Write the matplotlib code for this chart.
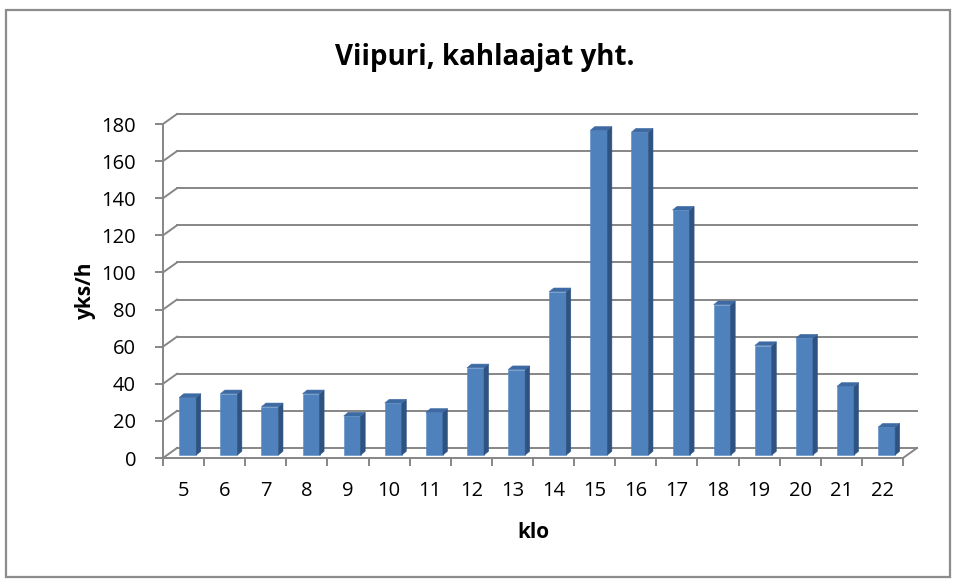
import matplotlib.pyplot as plt
from matplotlib.patches import Polygon, Rectangle

plt.rcParams["font.family"] = ["Open Sans", "DejaVu Sans"]

hours = ["5", "6", "7", "8", "9", "10", "11", "12", "13", "14",
         "15", "16", "17", "18", "19", "20", "21", "22"]
counts = [31, 33, 26, 33, 21, 28, 23, 47, 46, 88,
          175, 174, 132, 81, 59, 63, 37, 15]
y_ticks = [0, 20, 40, 60, 80, 100, 120, 140, 160, 180]

W, H = 954, 580
GRID = "#868686"
FRONT = "#4F81BD"
SIDE = "#2F5381"
TOP = "#3E6AA3"
PT = 72 / 100  # points per pixel

fig = plt.figure(figsize=(W / 100, H / 100), dpi=100)
fig.patches.append(Rectangle((6 / W, 3 / H), 944 / W, 567 / H, transform=fig.transFigure,
                             fill=False, edgecolor="#8C8C8C", lw=1.6))

# front plane of the 3D box, in pixels: x 163..903, y(0)=458, y(180)=124
ax = fig.add_axes([163 / W, (H - 458) / H, 740 / W, 334 / H])
n = len(counts)
ax.set_xlim(0, n)
ax.set_ylim(0, 180)

px_x = 740 / n        # pixels per category
px_y = 334 / 180      # pixels per unit
dx = 14 / px_x        # depth offset of back wall
dy = 10 / px_y

for s in ["top", "right"]:
    ax.spines[s].set_visible(False)
for s in ["left", "bottom"]:
    ax.spines[s].set_color(GRID)
    ax.spines[s].set_linewidth(1.4)

ax.set_yticks(y_ticks)
ax.set_yticklabels([str(v) for v in y_ticks], fontsize=14.5)
ax.tick_params(axis="y", length=8 * PT, width=1.4, color=GRID, pad=19 * PT)
ax.set_xticks(range(n + 1))
ax.set_xticklabels([])
ax.tick_params(axis="x", length=8 * PT, width=1.4, color=GRID)
ax.set_xticks([i + 0.5 for i in range(n)], minor=True)
ax.set_xticklabels(hours, minor=True, fontsize=14.5)
ax.tick_params(axis="x", which="minor", length=0, pad=23 * PT)

# back wall gridlines and left wall diagonals
for v in y_ticks:
    ax.plot([dx, n + dx], [v + dy, v + dy], color=GRID, lw=1.4, clip_on=False, zorder=1)
    ax.plot([0, dx], [v, v + dy], color=GRID, lw=1.4, clip_on=False, zorder=1)
ax.plot([n, n + dx], [0, dy], color=GRID, lw=1.4, clip_on=False, zorder=1)

# bars with side and top faces
f = 0.3
bw = 17 / px_x
bdx = 4.5 / px_x
bdy = 3.7 / px_y
base = f * dy
for i, v in enumerate(counts):
    x0 = i + 0.5 + f * dx - bw / 2
    x1 = x0 + bw
    ax.bar(x0, v, width=bw, bottom=base, align="edge", color=FRONT,
           edgecolor="#5A8AC4", lw=0.4, clip_on=False, zorder=3)
    ax.add_patch(Polygon([(x1, base), (x1 + bdx, base + bdy), (x1 + bdx, base + v + bdy),
                          (x1, base + v)], closed=True, facecolor=SIDE, edgecolor=SIDE,
                         lw=0.4, clip_on=False, zorder=3))
    ax.add_patch(Polygon([(x0, base + v), (x1, base + v), (x1 + bdx, base + v + bdy),
                          (x0 + bdx, base + v + bdy)], closed=True, facecolor=TOP,
                         edgecolor=TOP, lw=0.4, clip_on=False, zorder=3))

fig.text(485 / W, 1 - 57 / H, "Viipuri, kahlaajat yht.", ha="center", va="center",
         fontsize=20, fontweight="bold")
fig.text(85 / W, 1 - 290 / H, "yks/h", ha="center", va="center", rotation=90,
         fontsize=15, fontweight="bold")
fig.text(533 / W, 1 - 533 / H, "klo", ha="center", va="center",
         fontsize=15, fontweight="bold")

fig.savefig("out.png", dpi=100)
